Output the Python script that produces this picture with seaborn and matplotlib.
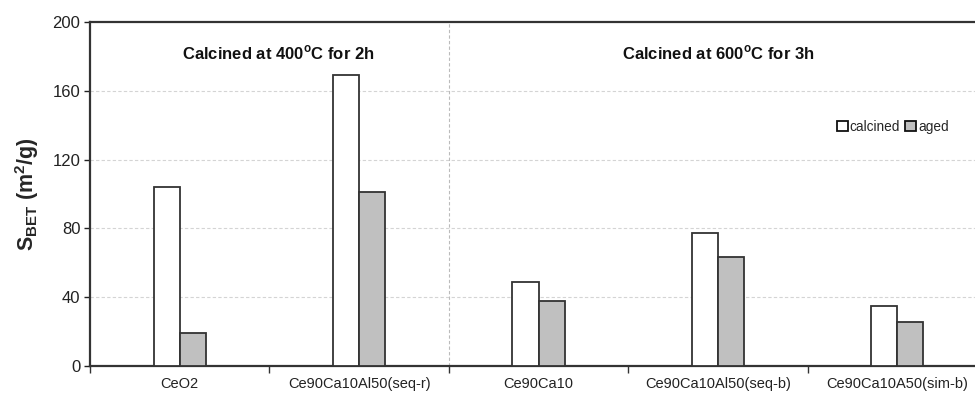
import matplotlib
matplotlib.use("Agg")
import matplotlib.pyplot as plt
from matplotlib.patches import Patch
from matplotlib.ticker import FixedLocator
import seaborn as sns
import pandas as pd

# BET surface areas (m2/g)
samples = ["CeO2", "Ce90Ca10Al50(seq-r)", "Ce90Ca10", "Ce90Ca10Al50(seq-b)", "Ce90Ca10A50(sim-b)"]
calcined = [104, 169, 49, 77.5, 35]
aged = [19, 101, 38, 63.5, 25.5]
states = ["calcined", "aged"]
group_titles = ["Calcined at 400$^{\\mathregular{o}}$C for 2h", "Calcined at 600$^{\\mathregular{o}}$C for 3h"]

df = pd.DataFrame({
    "sample": samples * 2,
    "state": [states[0]] * len(samples) + [states[1]] * len(samples),
    "sbet": calcined + aged,
})

sns.set_theme(style="white")
plt.rcParams["font.family"] = ["Liberation Sans", "DejaVu Sans"]
plt.rcParams["mathtext.fontset"] = "custom"
plt.rcParams["mathtext.rm"] = "Liberation Sans"
plt.rcParams["mathtext.bf"] = "Liberation Sans:bold"

fig = plt.figure(figsize=(9.75, 3.95), dpi=100)
ax = fig.add_axes([90 / 975, 29 / 395, 897 / 975, 344 / 395])

palette = {"calcined": "white", "aged": "#c0c0c0"}
sns.barplot(data=df, x="sample", y="sbet", hue="state", order=samples,
            hue_order=states, palette=palette, width=0.29, gap=0,
            edgecolor="#333333", linewidth=1.3, legend=False, ax=ax, zorder=3)

ax.set_xlim(-0.5, len(samples) - 0.5)
ax.set_ylim(0, 200)
ax.set_yticks([0, 40, 80, 120, 160, 200])
ax.tick_params(axis="y", labelsize=12, length=4, width=1, direction="out",
               left=True, colors="#222222", pad=3)
ax.tick_params(axis="x", which="major", length=0, labelsize=10.5, pad=8, colors="#222222")
ax.xaxis.set_minor_locator(FixedLocator([i - 0.5 for i in range(len(samples) + 1)]))
ax.tick_params(axis="x", which="minor", length=5, width=1, direction="out",
               bottom=True, color="#333333")
ax.set_xlabel("")
ax.set_ylabel("S$_{\\mathregular{BET}}$ (m$^{\\mathregular{2}}$/g)",
              fontsize=15.5, fontweight="bold", labelpad=8)

for y in [40, 80, 120, 160]:
    ax.axhline(y, color="#d4d4d4", lw=0.8, ls=(0, (3, 2)), zorder=0)
ax.axvline(1.5, color="#bbbbbb", lw=0.8, ls=(0, (3, 2)), zorder=0)

for side in ["top", "left", "bottom"]:
    ax.spines[side].set_color("#333333")
    ax.spines[side].set_linewidth(1.6)
ax.spines["right"].set_visible(False)

ax.text(0.55, 182, group_titles[0], ha="center", va="center",
        fontsize=12, fontweight="bold", color="#111111")
ax.text(3.0, 182, group_titles[1], ha="center", va="center",
        fontsize=12, fontweight="bold", color="#111111")

handles = [Patch(facecolor=palette[s], edgecolor="#111111", linewidth=1.3, label=s) for s in states]
ax.legend(handles=handles, loc="center", bbox_to_anchor=(3.975, 139),
          bbox_transform=ax.transData, ncol=2, frameon=False, fontsize=9.8,
          handlelength=0.8, handleheight=0.8, handletextpad=0.15,
          columnspacing=0.4, borderpad=0)

fig.savefig("out.png", dpi=100)
